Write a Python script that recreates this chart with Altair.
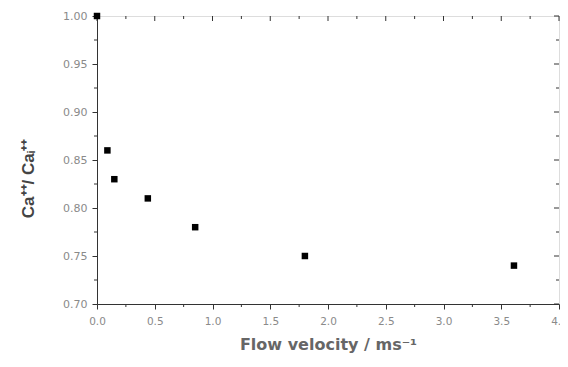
import altair as alt
import pandas as pd

velocity = [0.0, 0.09, 0.15, 0.44, 0.85, 1.80, 3.61]
ratio = [1.00, 0.86, 0.83, 0.81, 0.78, 0.75, 0.74]

x_major = [0.0, 0.5, 1.0, 1.5, 2.0, 2.5, 3.0, 3.5, 4.0]
x_minor = [0.25, 0.75, 1.25, 1.75, 2.25, 2.75, 3.25, 3.75]
y_major = [0.70, 0.75, 0.80, 0.85, 0.90, 0.95, 1.00]
y_minor = [0.725, 0.775, 0.825, 0.875, 0.925, 0.975]

W, H = 462, 288

df = pd.DataFrame({"v": velocity, "r": ratio})
xs = alt.Scale(domain=[0, 4], nice=False, zero=False)
ys = alt.Scale(domain=[0.70, 1.00], nice=False, zero=False)

label_color = "#8a8a8a"

points = alt.Chart(df).mark_square(size=42, color="black", opacity=1, clip=False).encode(
    x=alt.X("v:Q", scale=xs,
            axis=alt.Axis(values=x_major, format=".1f", title="Flow velocity / ms⁻¹",
                          grid=False, tickSize=5, tickColor="#333", domainColor="#333",
                          labelFlush=False,
                          labelColor=label_color, labelFont="DejaVu Sans", labelFontSize=10.5,
                          labelPadding=7, titleFont="DejaVu Sans", titleFontSize=16,
                          titleFontWeight="bold", titleColor="#666", titlePadding=10)),
    y=alt.Y("r:Q", scale=ys,
            axis=alt.Axis(values=y_major, format=".2f", title="Ca⁺⁺/ Caᵢ⁺⁺",
                          grid=False, tickSize=5, tickColor="#333", domainColor="#333",
                          labelFlush=False,
                          labelColor=label_color, labelFont="DejaVu Sans", labelFontSize=11,
                          labelPadding=5, titleFont="Liberation Sans", titleFontSize=17,
                          titleFontWeight="bold", titleColor="#444",
                          titleX=-60, titleY=162)),
)

def xticks(vals, y0, y1):
    return alt.Chart(pd.DataFrame({"t": vals})).mark_rule(color="#333", strokeWidth=1).encode(
        x=alt.X("t:Q", scale=xs), y=alt.value(y0), y2=alt.value(y1))

def yticks(vals, x0, x1):
    return alt.Chart(pd.DataFrame({"t": vals})).mark_rule(color="#333", strokeWidth=1).encode(
        y=alt.Y("t:Q", scale=ys), x=alt.value(x0), x2=alt.value(x1))

layers = [
    xticks(x_minor, H, H + 3),      # bottom minor, outward
    yticks(y_minor, -3, 0),         # left minor, outward
    xticks(x_major, 0, 5),          # top major, inward
    xticks(x_minor, 0, 3),          # top minor, inward
    yticks(y_major, W - 5, W),      # right major, inward
    yticks(y_minor, W - 3, W),      # right minor, inward
    points,
]

chart = alt.layer(*layers).properties(
    width=W, height=H,
    autosize=alt.AutoSizeParams(type="none"),
    padding={"left": 89, "top": 8, "right": 1, "bottom": 51},
).configure_view(stroke="#333", strokeWidth=1).configure(background="white")

chart.save("out.html", embed_options={"renderer": "svg", "actions": False})
